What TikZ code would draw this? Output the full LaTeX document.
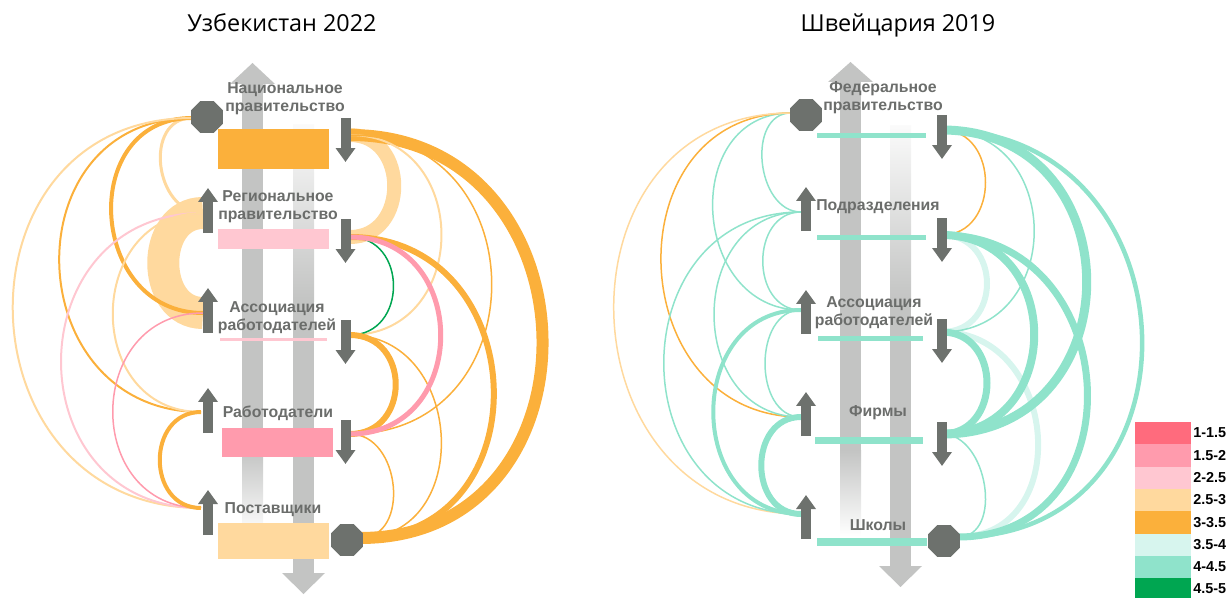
\documentclass[tikz,border=0pt]{standalone}
\usepackage{fontspec}
\setmainfont{Liberation Sans}
\newfontfamily\titlefont{Open Sans}
\usepackage{tikz}
\usetikzlibrary{shapes.geometric, arrows.meta}
\definecolor{arrowgrey}{HTML}{6D716D}
\definecolor{shaftgrey}{HTML}{C3C4C3}
\definecolor{labelgrey}{HTML}{6B6D6B}
\definecolor{coral}{HTML}{FF6B7D}
\definecolor{pinkdark}{HTML}{FF9BAD}
\definecolor{pinklight}{HTML}{FFC7D1}
\definecolor{peach}{HTML}{FFD99E}
\definecolor{amber}{HTML}{FBB03B}
\definecolor{mintlight}{HTML}{D7F5EE}
\definecolor{mint}{HTML}{8FE3CB}
\definecolor{deepgreen}{HTML}{00A651}

\begin{document}
\begin{tikzpicture}[x=0.02cm, y=-0.02cm,
  lab/.style={text=labelgrey, font=\bfseries\fontsize{9}{10.2}\selectfont, align=center, inner sep=0pt},
  ttl/.style={font=\titlefont\fontsize{13.3}{16}\selectfont, anchor=base, inner sep=0pt},
  uparr/.style={draw=arrowgrey, line width=0.2cm, -{Triangle[width=0.38cm,length=0.28cm]}},
  hub/.style={regular polygon, regular polygon sides=8, fill=arrowgrey, minimum size=0.69cm, inner sep=0pt},
  lft/.style={out=180, in=180},
  rgt/.style={out=0, in=0}]
\useasboundingbox (0,0) rectangle (1231,598);

% Uzbekistan: shafts
\fill[shaftgrey] (242,84) rectangle (263,451);
\shade[top color=shaftgrey, bottom color=white] (242,450) rectangle (263,535);
\fill[shaftgrey] (230,84) -- (252.5,63) -- (275,84) -- cycle;
\shade[top color=white!92!shaftgrey, bottom color=shaftgrey] (293,125) rectangle (314,301);
\fill[shaftgrey] (293,300) rectangle (314,573);
\fill[shaftgrey] (282,573) -- (303.5,594) -- (325,573) -- cycle;

% Uzbekistan: bars
\fill[amber] (218,129) rectangle (329,169);
\fill[pinklight] (218,229) rectangle (329,249);
\fill[pinklight] (220,338) rectangle (327,340.5);
\fill[pinkdark] (222,428) rectangle (333,457);
\fill[peach] (218,523) rectangle (329,559);

\node[ttl] (uztitle) at (282,32) {Узбекистан 2022};
\node[lab] (nat) at (285,99) {Национальное\\правительство};
\node[lab] (reg) at (278,206.5) {Региональное\\правительство};
\node[lab] (ass) at (277,317.5) {Ассоциация\\работодателей};
\node[lab] (emp) at (278,413) {Работодатели};
\node[lab] (sup) at (273,510) {Поставщики};

\coordinate (natL) at (192,118);
\coordinate (regL) at (203,213);
\coordinate (assL) at (203,313);
\coordinate (empL) at (201,412);
\coordinate (supL) at (201,508);
\coordinate (natR) at (350,135);
\coordinate (regR) at (350,237);
\coordinate (assR) at (350,335);
\coordinate (empR) at (350,434);
\coordinate (supR) at (360,538);

% Uzbekistan: left links
\draw[peach, line width=0.64cm] (regL) to[lft, distance=1.06cm] (assL);
\draw[peach, line width=0.06cm] (natL) to[lft, distance=0.98cm] (regL);
\draw[amber, line width=0.08cm] (natL) to[lft, distance=2.30cm] (assL);
\draw[amber, line width=0.04cm] (natL) to[lft, distance=3.66cm] (empL);
\draw[peach, line width=0.04cm] (natL) to[lft, distance=4.90cm] (supL);
\draw[pinklight, line width=0.04cm] (regL) to[lft, distance=3.76cm] (supL);
\draw[peach, line width=0.04cm] (regL) to[lft, distance=2.38cm] (empL);
\draw[pinkdark, line width=0.03cm] (assL) to[lft, distance=2.38cm] (supL);
\draw[amber, line width=0.08cm] (empL) to[lft, distance=1.10cm] (supL);

% Uzbekistan: right links
\draw[peach, line width=0.28cm] (natR) to[rgt, distance=1.18cm] (regR);
\draw[amber, line width=0.24cm] (natR) to[rgt, distance=5.00cm] (supR);
\draw[peach, line width=0.04cm] (natR) to[rgt, distance=2.44cm] (assR);
\draw[amber, line width=0.03cm] (natR) to[rgt, distance=3.78cm] (empR);
\draw[amber, line width=0.12cm] (regR) to[rgt, distance=3.70cm] (supR);
\draw[deepgreen, line width=0.03cm] (regR) to[rgt, distance=1.16cm] (assR);
\draw[amber, line width=0.12cm] (assR) to[rgt, distance=1.22cm] (empR);
\draw[amber, line width=0.03cm] (assR) to[rgt, distance=2.30cm] (supR);
\draw[amber, line width=0.03cm] (empR) to[rgt, distance=1.02cm] (supR);
\draw[pinkdark, line width=0.10cm] (regR) to[rgt, distance=2.42cm] (empR);

% Uzbekistan: small arrows and hubs
\foreach \y in {188,288,388,490} \draw[uparr] (208,\y+45) -- (208,\y);
\foreach \y in {118,219,320,420} \draw[uparr] (345.5,\y) -- (345.5,\y+44);
\node[hub] (nathub) at (207,117) {};
\node[hub] (suphub) at (347,540) {};

% Switzerland: shafts
\fill[shaftgrey] (840,82) rectangle (861,451);
\shade[top color=shaftgrey, bottom color=white] (840,450) rectangle (861,536);
\fill[shaftgrey] (828,82) -- (850.5,62) -- (873,82) -- cycle;
\shade[top color=white!92!shaftgrey, bottom color=shaftgrey] (890,126) rectangle (911,301);
\fill[shaftgrey] (890,300) rectangle (911,566);
\fill[shaftgrey] (879,566) -- (900.5,587) -- (922,566) -- cycle;

% Switzerland: bars
\fill[mint] (817,133.5) rectangle (926,138.5);
\fill[mint] (817,234.5) rectangle (926,239.5);
\fill[mint] (818,335.5) rectangle (923,340.5);
\fill[mint] (815,436.5) rectangle (923,443.5);
\fill[mint] (817,538) rectangle (927,546);

\node[ttl] (chtitle) at (898,32) {Швейцария 2019};
\node[lab] (fed) at (883,97.5) {Федеральное\\правительство};
\node[lab] (sub) at (878,207) {Подразделения};
\node[lab] (asso) at (874,312.5) {Ассоциация\\работодателей};
\node[lab] (fir) at (878,413) {Фирмы};
\node[lab] (sch) at (878,525) {Школы};

\coordinate (fedL) at (791,113);
\coordinate (subL) at (801,212);
\coordinate (assoL) at (801,310);
\coordinate (firL) at (801,417);
\coordinate (schL) at (801,514);
\coordinate (fedR) at (942,130);
\coordinate (subR) at (942,235);
\coordinate (assoR) at (942,332);
\coordinate (firR) at (942,434);
\coordinate (schR) at (958,537);

% Switzerland: left links
\draw[mint, line width=0.03cm] (fedL) to[lft, distance=0.90cm] (subL);
\draw[mint, line width=0.03cm] (fedL) to[lft, distance=2.22cm] (assoL);
\draw[amber, line width=0.03cm] (fedL) to[lft, distance=3.60cm] (firL);
\draw[peach, line width=0.03cm] (fedL) to[lft, distance=4.86cm] (schL);
\draw[mint, line width=0.03cm] (subL) to[lft, distance=1.02cm] (assoL);
\draw[mint, line width=0.03cm] (subL) to[lft, distance=2.32cm] (firL);
\draw[mint, line width=0.03cm] (subL) to[lft, distance=3.66cm] (schL);
\draw[mint, line width=0.03cm] (assoL) to[lft, distance=0.96cm] (firL);
\draw[mint, line width=0.08cm] (assoL) to[lft, distance=2.34cm] (schL);
\draw[mint, line width=0.12cm] (firL) to[lft, distance=1.06cm] (schL);

% Switzerland: right links
\draw[mintlight, line width=0.12cm] (subR) to[rgt, distance=1.20cm] (assoR);
\draw[mintlight, line width=0.12cm] (assoR) to[rgt, distance=2.34cm] (schR);
\draw[amber, line width=0.03cm] (fedR) to[rgt, distance=1.16cm] (subR);
\draw[mint, line width=0.03cm] (fedR) to[rgt, distance=2.46cm] (assoR);
\draw[mint, line width=0.18cm] (fedR) to[rgt, distance=3.86cm] (firR);
\draw[mint, line width=0.09cm] (fedR) to[rgt, distance=5.12cm] (schR);
\draw[mint, line width=0.16cm] (subR) to[rgt, distance=2.46cm] (firR);
\draw[mint, line width=0.14cm] (subR) to[rgt, distance=3.66cm] (schR);
\draw[mint, line width=0.14cm] (assoR) to[rgt, distance=1.20cm] (firR);
\draw[mint, line width=0.03cm] (firR) to[rgt, distance=0.92cm] (schR);

% Switzerland: small arrows and hubs
\foreach \y in {187,290,392,495} \draw[uparr] (806,\y+44) -- (806,\y);
\foreach \y in {115,218,319,422} \draw[uparr] (942,\y) -- (942,\y+44);
\node[hub] (fedhub) at (806,115) {};
\node[hub] (schhub) at (944,541) {};

% Legend
\foreach \col/\txt [count=\i] in {coral/1-1.5, pinkdark/1.5-2, pinklight/2-2.5, peach/2.5-3, amber/3-3.5, mintlight/3.5-4, mint/4-4.5, deepgreen/4.5-5} {
  \fill[\col] (1135,{422+22.3*(\i-1)}) rectangle (1191,{422.5+22.3*\i});
  \node[anchor=west, inner sep=0pt, font=\bfseries\fontsize{8.2}{9}\selectfont] (key\i) at (1193,{433+22.3*(\i-1)}) {\txt};
}
\end{tikzpicture}
\end{document}
